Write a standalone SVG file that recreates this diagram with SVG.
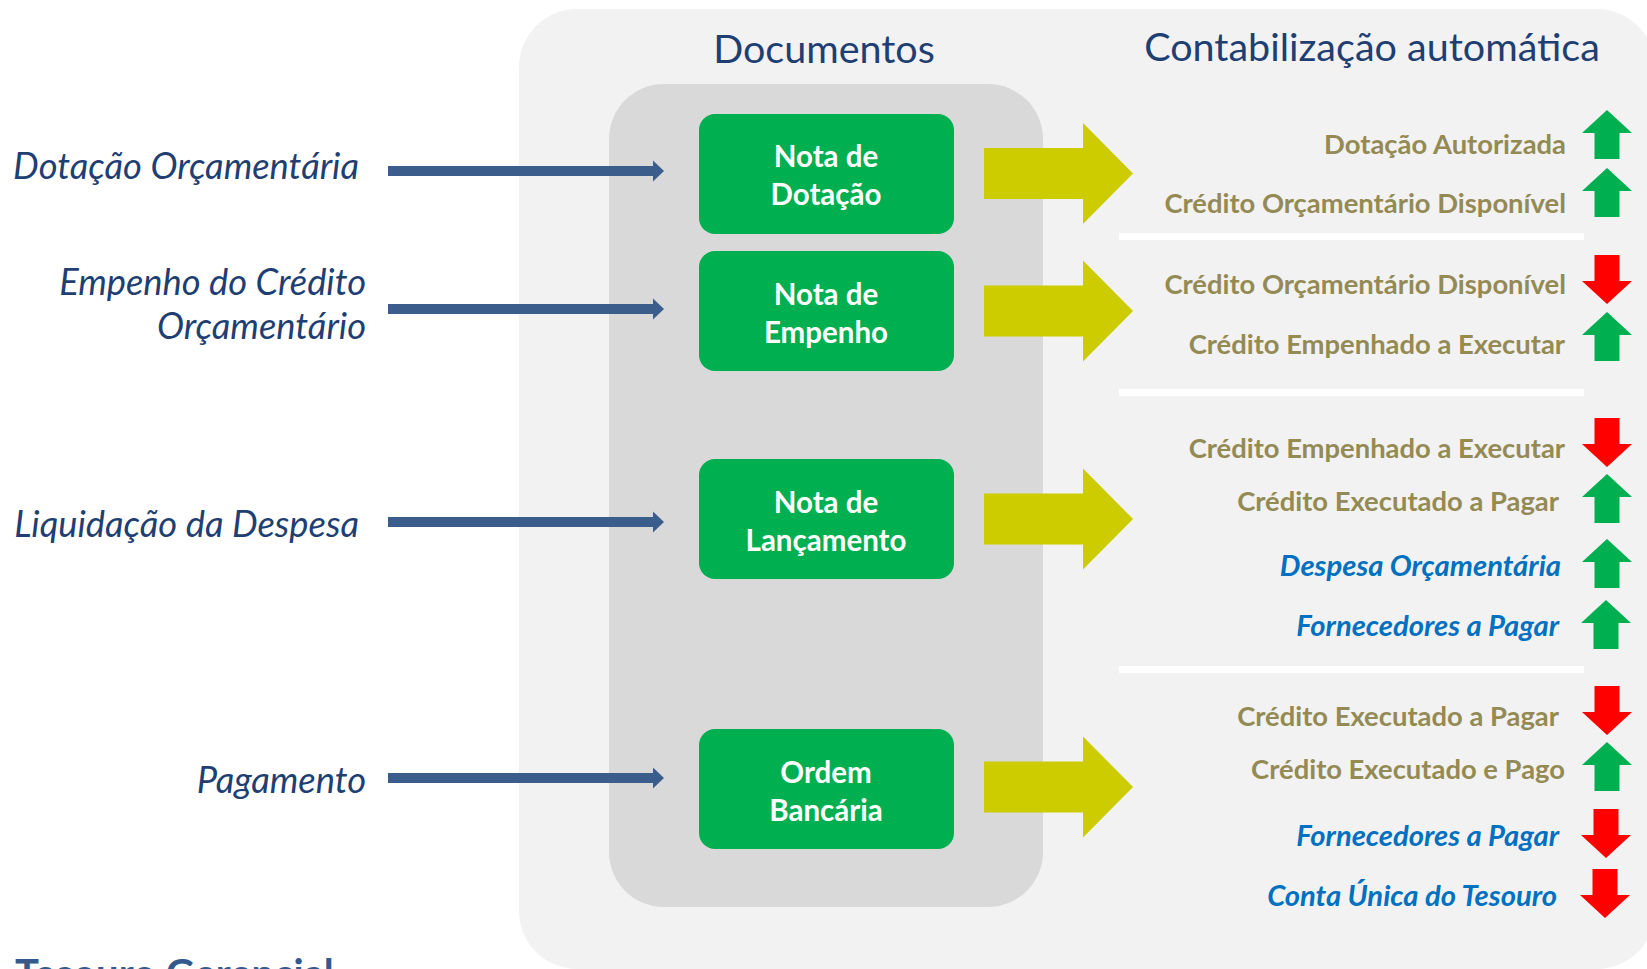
<svg xmlns="http://www.w3.org/2000/svg" width="1647" height="969" viewBox="0 0 1647 969">
<defs>
<style>
.lbl{font-family:Lato,"Liberation Sans",sans-serif;font-style:italic;font-size:36.3px;fill:#1F3F73;text-anchor:end}
.hd{font-family:Lato,"Liberation Sans",sans-serif;font-size:39.5px;fill:#1F3F73;text-anchor:middle}
.bx{fill:#00B050}
.bt{font-family:Lato,"Liberation Sans",sans-serif;font-weight:bold;font-size:29.5px;fill:#FFFFFF;text-anchor:middle}
.ol{font-family:Lato,"Liberation Sans",sans-serif;font-weight:bold;font-size:27.4px;fill:#948A54;text-anchor:end}
.bl{font-family:Lato,"Liberation Sans",sans-serif;font-weight:bold;font-style:italic;font-size:29.2px;fill:#0070C0;text-anchor:end}
.conn{stroke:#3A5D8C;stroke-width:10;fill:none}
.conh{fill:#3A5D8C}
.ya{fill:#CCCC00}
.up{fill:#00B050}
.dn{fill:#FF0000}
.sep{fill:#FFFFFF}
</style>
<path id="uarr" d="M0,0 L25,23 L12.5,23 L12.5,49 L-12.5,49 L-12.5,23 L-25,23 Z"/>
<path id="darr" d="M0,49 L25,26 L12.5,26 L12.5,0 L-12.5,0 L-12.5,26 L-25,26 Z"/>
<path id="yarr" d="M0,-25.5 L99,-25.5 L99,-50.5 L149,0 L99,50.5 L99,25.5 L0,25.5 Z"/>
</defs>
<rect width="1647" height="969" fill="#FFFFFF"/>
<g id="outer-panel"><rect x="519" y="9" width="1136" height="960" rx="58" fill="#F2F2F2"/></g>
<g id="inner-panel"><rect x="609" y="84" width="434" height="823" rx="55" fill="#D9D9D9"/></g>
<g id="headings">
<text class="hd" x="824" y="63">Documentos</text>
<text class="hd" x="1372" y="61">Contabilização automática</text>
</g>
<g id="left-labels">
<text class="lbl" x="359" y="179">Dotação Orçamentária</text>
<text class="lbl" x="366" y="295">Empenho do Crédito</text>
<text class="lbl" x="366" y="339">Orçamentário</text>
<text class="lbl" x="359" y="537">Liquidação da Despesa</text>
<text class="lbl" x="366" y="793">Pagamento</text>
</g>
<g id="connectors">
<line class="conn" x1="388" y1="171" x2="654" y2="171"/><path class="conh" d="M653,160.5 L664,171 L653,181.5 Z"/>
<line class="conn" x1="388" y1="309" x2="654" y2="309"/><path class="conh" d="M653,298.5 L664,309 L653,319.5 Z"/>
<line class="conn" x1="388" y1="522" x2="654" y2="522"/><path class="conh" d="M653,511.5 L664,522 L653,532.5 Z"/>
<line class="conn" x1="388" y1="778" x2="654" y2="778"/><path class="conh" d="M653,767.5 L664,778 L653,788.5 Z"/>
<use href="#yarr" class="ya" x="984" y="173.5"/>
<use href="#yarr" class="ya" x="984" y="311"/>
<use href="#yarr" class="ya" x="984" y="519"/>
<use href="#yarr" class="ya" x="984" y="787"/>
</g>
<g id="nota-dotacao">
<rect class="bx" x="699" y="114" width="255" height="120" rx="16"/>
<text class="bt" x="826" y="167">Nota de</text>
<text class="bt" x="826" y="205">Dotação</text>
</g>
<g id="nota-empenho">
<rect class="bx" x="699" y="251" width="255" height="120" rx="16"/>
<text class="bt" x="826" y="305">Nota de</text>
<text class="bt" x="826" y="343">Empenho</text>
</g>
<g id="nota-lancamento">
<rect class="bx" x="699" y="459" width="255" height="120" rx="16"/>
<text class="bt" x="826" y="513">Nota de</text>
<text class="bt" x="826" y="551">Lançamento</text>
</g>
<g id="ordem-bancaria">
<rect class="bx" x="699" y="729" width="255" height="120" rx="16"/>
<text class="bt" x="826" y="783">Ordem</text>
<text class="bt" x="826" y="821">Bancária</text>
</g>
<g id="separators">
<rect class="sep" x="1119" y="233" width="465" height="7"/>
<rect class="sep" x="1119" y="389" width="465" height="7"/>
<rect class="sep" x="1119" y="666" width="465" height="7"/>
</g>
<g id="group-dotacao">
<text class="ol" x="1566" y="154">Dotação Autorizada</text>
<use href="#uarr" class="up" x="1607" y="110"/>
<text class="ol" x="1566" y="213">Crédito Orçamentário Disponível</text>
<use href="#uarr" class="up" x="1607" y="168"/>
</g>
<g id="group-empenho">
<text class="ol" x="1566" y="294">Crédito Orçamentário Disponível</text>
<use href="#darr" class="dn" x="1607" y="255"/>
<text class="ol" x="1565" y="354">Crédito Empenhado a Executar</text>
<use href="#uarr" class="up" x="1607" y="312"/>
</g>
<g id="group-liquidacao">
<text class="ol" x="1565" y="458">Crédito Empenhado a Executar</text>
<use href="#darr" class="dn" x="1607" y="418"/>
<text class="ol" x="1559" y="511">Crédito Executado a Pagar</text>
<use href="#uarr" class="up" x="1607" y="474"/>
<text class="bl" x="1561" y="576">Despesa Orçamentária</text>
<use href="#uarr" class="up" x="1607" y="539"/>
<text class="bl" x="1559" y="636">Fornecedores a Pagar</text>
<use href="#uarr" class="up" x="1606" y="600"/>
</g>
<g id="group-pagamento">
<text class="ol" x="1559" y="726">Crédito Executado a Pagar</text>
<use href="#darr" class="dn" x="1607" y="686"/>
<text class="ol" x="1565" y="779">Crédito Executado e Pago</text>
<use href="#uarr" class="up" x="1607" y="742"/>
<text class="bl" x="1559" y="846">Fornecedores a Pagar</text>
<use href="#darr" class="dn" x="1606" y="809"/>
<text class="bl" x="1557" y="906">Conta Única do Tesouro</text>
<use href="#darr" class="dn" x="1605" y="869"/>
</g>
<g id="footer">
<text x="15" y="988" font-family="Lato,'Liberation Sans',sans-serif" font-weight="bold" font-size="40" fill="#34598F">Tesouro Gerencial</text>
</g>
</svg>
